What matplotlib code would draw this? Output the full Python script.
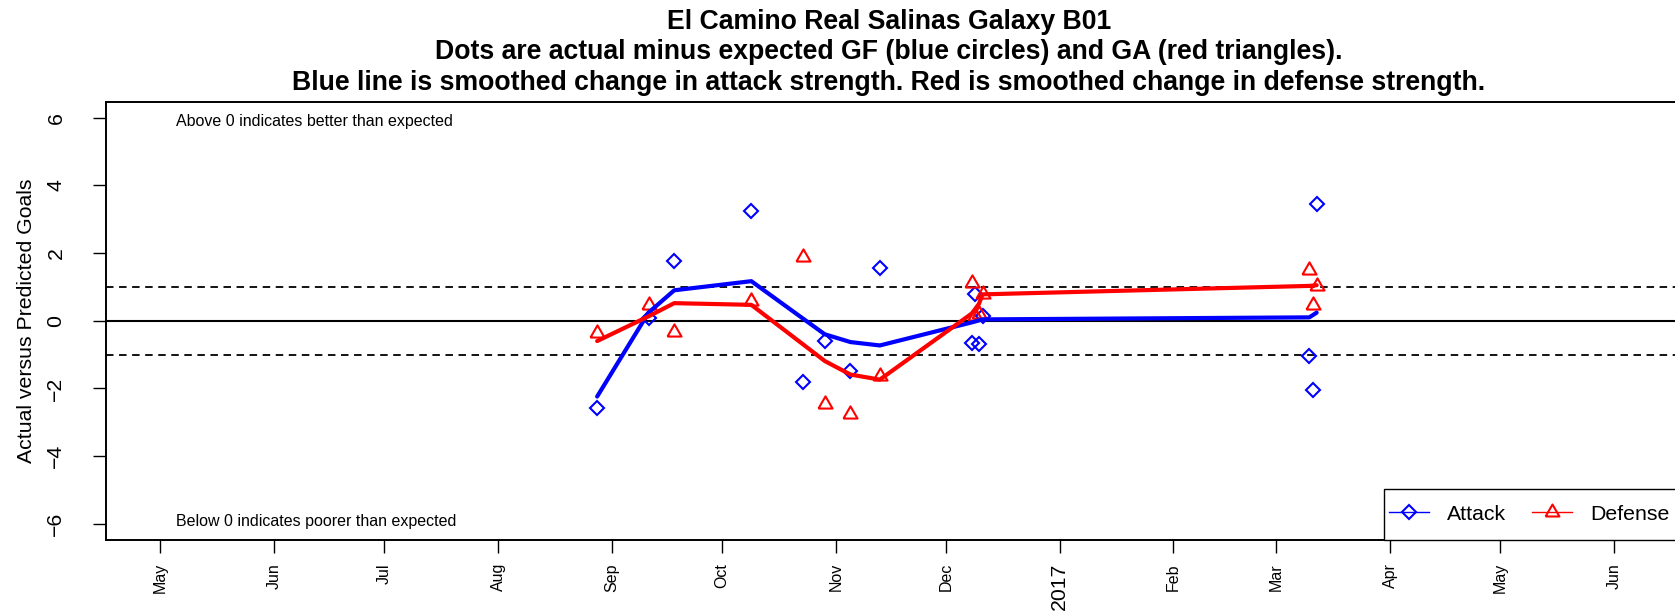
import matplotlib
matplotlib.use("Agg")
import matplotlib.pyplot as plt
import matplotlib.dates as mdates
from matplotlib.lines import Line2D
from matplotlib.patches import Rectangle
import numpy as np
import datetime as dt

# ---------------- data ----------------
game_dates = ["2016-08-28", "2016-09-11", "2016-09-18", "2016-10-09", "2016-10-23",
              "2016-10-29", "2016-11-05", "2016-11-13", "2016-12-08", "2016-12-09",
              "2016-12-10", "2016-12-11", "2017-03-10", "2017-03-11", "2017-03-12"]
attack_actual = [-2.57, 0.08, 1.78, 3.23, -1.81, -0.61, -1.49, 1.55, -0.65, 0.78,
                 -0.68, 0.14, -1.03, -2.04, 3.46]
defense_actual = [-0.37, 0.47, -0.32, 0.58, 1.88, -2.45, -2.77, -1.63, 1.11, 0.15,
                  0.21, 0.78, 1.51, 0.48, 1.04]
attack_smooth = [-2.24, 0.24, 0.90, 1.17, 0.07, -0.40, -0.63, -0.73, -0.05, -0.02,
                 0.01, 0.04, 0.10, 0.17, 0.24]
defense_smooth = [-0.60, 0.13, 0.52, 0.47, -0.69, -1.19, -1.59, -1.74, 0.21, 0.35,
                  0.50, 0.78, 1.03, 1.04, 1.05]

month_ticks = ["2016-05-01", "2016-06-01", "2016-07-01", "2016-08-01", "2016-09-01",
               "2016-10-01", "2016-11-01", "2016-12-01", "2017-01-01", "2017-02-01",
               "2017-03-01", "2017-04-01", "2017-05-01", "2017-06-01"]
month_labels = ["May", "Jun", "Jul", "Aug", "Sep", "Oct", "Nov", "Dec", "2017",
                "Feb", "Mar", "Apr", "May", "Jun"]
y_ticks = [-6, -4, -2, 0, 2, 4, 6]
title_lines = ["El Camino Real Salinas Galaxy B01",
               "Dots are actual minus expected GF (blue circles) and GA (red triangles).",
               "Blue line is smoothed change in attack strength. Red is smoothed change in defense strength."]
ylabel = "Actual versus Predicted Goals"
note_above = "Above 0 indicates better than expected"
note_below = "Below 0 indicates poorer than expected"
legend_labels = ["Attack", "Defense"]

# ---------------- style ----------------
plt.rcParams['font.family'] = ['Liberation Sans', 'DejaVu Sans']
plt.rcParams['lines.scale_dashes'] = False

W, H = 1675, 616
fig = plt.figure(figsize=(W / 100, H / 100), dpi=100)
ax_l, ax_r, ax_t, ax_b = 106, 1680, 101.5, 540
ax = fig.add_axes([ax_l / W, (H - ax_b) / H, (ax_r - ax_l) / W, (ax_b - ax_t) / H])

def d(s):
    return mdates.date2num(dt.datetime.strptime(s, "%Y-%m-%d"))

x = [d(s) for s in game_dates]
may1 = d("2016-05-01")
ppd = 3.671
ax.set_xlim(may1 - (160.3 - ax_l) / ppd, may1 + (ax_r - 160.3) / ppd)
ax.set_ylim(-6.48, 6.48)

BLUE = "#0000FF"
RED = "#FF0000"

# reference lines
ax.axhline(0, color="black", lw=1.5, zorder=1)
for v in (1, -1):
    ax.axhline(v, color="black", lw=1.3, dashes=(5.4, 4.0), zorder=1)

tri = [(-1, -0.5774), (1, -0.5774), (0, 1.1547), (-1, -0.5774)]

ax.plot(x, attack_actual, ls="none", marker="D", ms=7.5, mfc="none", mec=BLUE, mew=1.5, zorder=3)
ax.plot(x, defense_actual, ls="none", marker=tri, ms=11.7, mfc="none", mec=RED, mew=1.5, zorder=3)
ax.plot(x, attack_smooth, color=BLUE, lw=3, solid_capstyle="round", solid_joinstyle="round", zorder=4)
ax.plot(x, defense_smooth, color=RED, lw=3, solid_capstyle="round", solid_joinstyle="round", zorder=4)

# notes
ax.text(may1 + 4.3, 5.9, note_above, fontsize=11.5, ha="left", va="center")
ax.text(may1 + 4.3, -5.93, note_below, fontsize=11.5, ha="left", va="center")

# axes styling
for s in ("top", "left", "bottom"):
    ax.spines[s].set_linewidth(1.4)
ax.spines["right"].set_visible(False)

ax.set_yticks(y_ticks)
ax.set_yticklabels([str(v).replace("-", "\u2212") for v in y_ticks])
ax.set_xticks([d(s) for s in month_ticks])
ax.set_xticklabels(month_labels)
ax.tick_params(axis="both", direction="out", length=9.4, width=1.0)
ax.tick_params(axis="y", labelsize=15.3, pad=19.8)
ax.tick_params(axis="x", pad=7.2)
for lab in ax.get_yticklabels():
    lab.set_rotation(90)
    lab.set_va("center")
    lab.set_ha("right")
for lab, txt in zip(ax.get_xticklabels(), month_labels):
    lab.set_rotation(90)
    lab.set_va("top")
    lab.set_ha("center")
    lab.set_fontsize(15.3 if txt == "2017" else 11.5)

ax.set_ylabel(ylabel, fontsize=15.3)
ax.yaxis.set_label_coords((35.5 - ax_l) / (ax_r - ax_l), 0.5)

# title
for line, base in zip(title_lines, (28.8, 59.3, 89.8)):
    fig.text(889 / W, 1 - base / H, line, ha="center", va="baseline",
             fontsize=19.15, fontweight="bold")

# legend
aw, ah = ax_r - ax_l, ax_b - ax_t
ax.add_patch(Rectangle(((1384.3 - ax_l) / aw, 0), 0.3, (ax_b - 489) / ah,
                       transform=ax.transAxes, facecolor="white", edgecolor="black",
                       lw=1.0, zorder=5, clip_on=False))
handles = [Line2D([], [], color=BLUE, lw=1.0, marker="D", ms=7.3, mfc="none", mew=1.5),
           Line2D([], [], color=RED, lw=1.0, marker=tri, ms=11.5, mfc="none", mew=1.5)]
leg = ax.legend(handles, legend_labels, loc="center left",
                bbox_to_anchor=((1389 - ax_l) / aw, (ax_b - 514.3) / ah),
                ncol=2, frameon=False, borderpad=0, borderaxespad=0,
                handlelength=1.87, handletextpad=0.88, columnspacing=1.21,
                fontsize=15.3)
leg.set_zorder(6)

fig.savefig("out.png", dpi=100)
